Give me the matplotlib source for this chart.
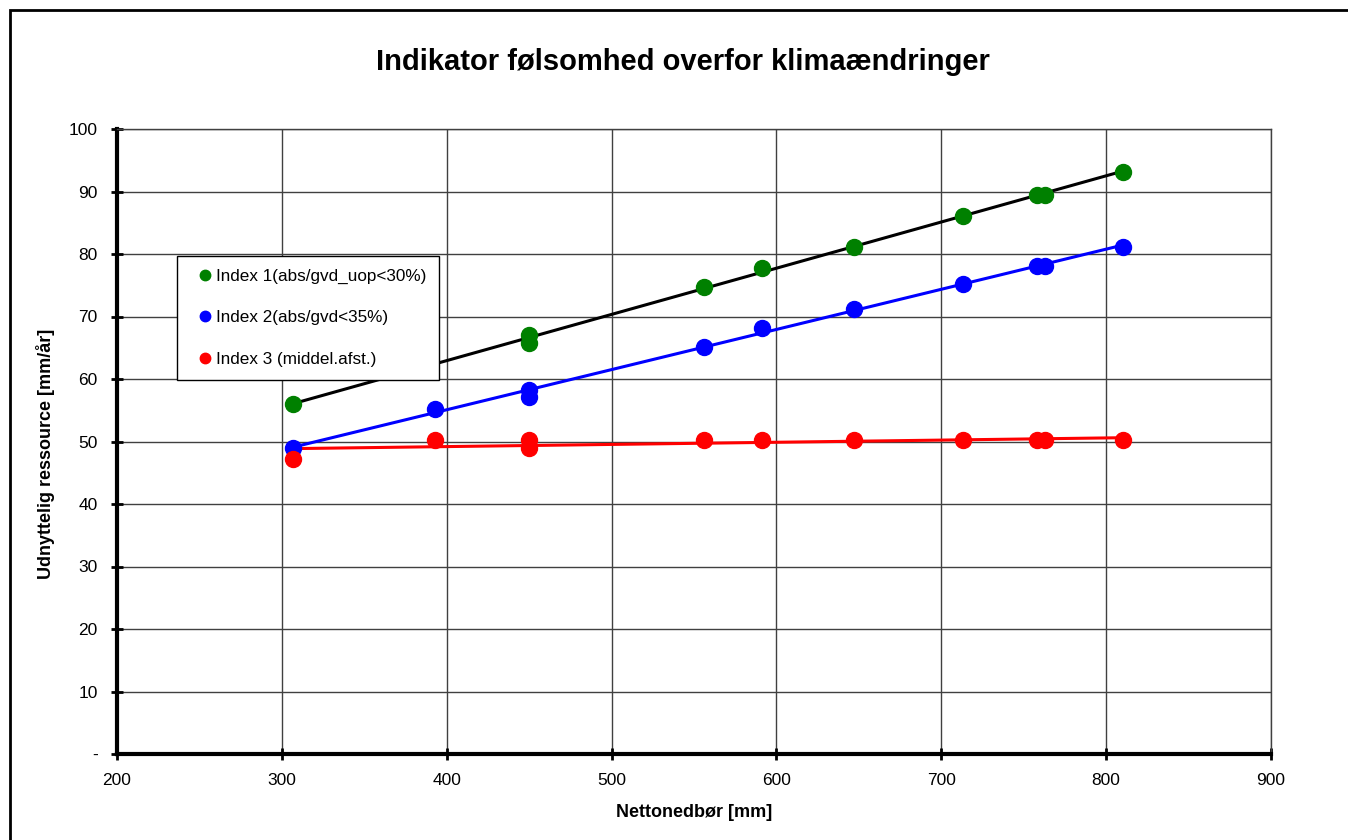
import numpy as np
import matplotlib
matplotlib.use("Agg")
import matplotlib.pyplot as plt
from matplotlib.patches import Rectangle

plt.rcParams['font.family'] = ['Liberation Sans', 'DejaVu Sans']

# Nettonedbør [mm]
nettonedboer = np.array([307, 393, 450, 450, 556, 591, 647, 713, 758, 763, 810])

# Udnyttelig ressource [mm/år] for the three indicators
# (index 1 at 393 mm is hidden behind the legend in the original)
index1 = np.array([56.0, np.nan, 67.0, 65.8, 74.8, 77.7, 81.2, 86.1, 89.4, 89.4, 93.2])
index2 = np.array([49.0, 55.2, 58.2, 57.2, 65.2, 68.2, 71.2, 75.2, 78.1, 78.1, 81.2])
index3 = np.array([47.2, 50.2, 50.3, 49.0, 50.2, 50.2, 50.2, 50.2, 50.2, 50.2, 50.2])

labels = ['Index 1(abs/gvd_uop<30%)', 'Index 2(abs/gvd<35%)', 'Index 3 (middel.afst.)']
colors = ['#008000', '#0000ff', '#ff0000']
trend_colors = ['black', '#0000ff', '#ff0000']

xticks = [200, 300, 400, 500, 600, 700, 800, 900]
yticks = [0, 10, 20, 30, 40, 50, 60, 70, 80, 90, 100]
yticklabels = ['-'] + [str(v) for v in yticks[1:]]

fig = plt.figure(figsize=(13.48, 8.4), dpi=100)
ax = fig.add_axes([117 / 1348, 1 - 754 / 840, (1271 - 117) / 1348, (754 - 129) / 840])

# outer chart frame
fig.patches.append(Rectangle((10 / 1348, -0.1), 1.2, 1 - 10 / 840 + 0.1,
                             transform=fig.transFigure, fill=False,
                             edgecolor='black', linewidth=2))

# linear trend lines
for series, tc in zip([index1, index2, index3], trend_colors):
    ok = ~np.isnan(series)
    k, m = np.polyfit(nettonedboer[ok], series[ok], 1)
    xfit = np.array([nettonedboer[ok].min(), nettonedboer[ok].max()])
    ax.plot(xfit, k * xfit + m, color=tc, linewidth=2.2, zorder=3)

handles = []
for series, c, lab in zip([index1, index2, index3], colors, labels):
    ax.plot(nettonedboer, series, 'o', color=c, markersize=11.5, zorder=4)
    h, = ax.plot([], [], 'o', color=c, markersize=7.5, label=lab)
    handles.append(h)

ax.set_xlim(200, 900)
ax.set_ylim(0, 100)
ax.set_xticks(xticks)
ax.set_yticks(yticks)
ax.set_yticklabels(yticklabels)
ax.grid(True, color='#404040', linewidth=1)
ax.set_axisbelow(True)

for side in ['left', 'bottom']:
    ax.spines[side].set_linewidth(3)
for side in ['top', 'right']:
    ax.spines[side].set_linewidth(1)
    ax.spines[side].set_color('#404040')
ax.tick_params(direction='inout', length=8, width=2, labelsize=12.5)
ax.tick_params(axis='y', pad=10)
ax.tick_params(axis='x', pad=10)

ax.set_xlabel('Nettonedbør [mm]', fontsize=13, fontweight='bold', labelpad=11)
ax.set_ylabel('Udnyttelig ressource [mm/år]', fontsize=13, fontweight='bold')
ax.yaxis.set_label_coords((55 - 117) / 1154, 0.48)
fig.text(683 / 1348, 1 - 62 / 840, 'Indikator følsomhed overfor klimaændringer',
         fontsize=21, fontweight='bold', ha='center', va='center')

leg = ax.legend(handles=handles, loc='upper left',
                bbox_to_anchor=((177 - 117) / 1154, 1 - (256 - 129) / 625),
                frameon=True, fancybox=False, framealpha=1, fontsize=12.3,
                handletextpad=-0.2, handlelength=1.75, labelspacing=1.55,
                borderpad=0.75, borderaxespad=0)
leg.get_frame().set_edgecolor('black')
leg.get_frame().set_linewidth(1)
leg.set_zorder(10)

fig.savefig('out.png', dpi=100)
